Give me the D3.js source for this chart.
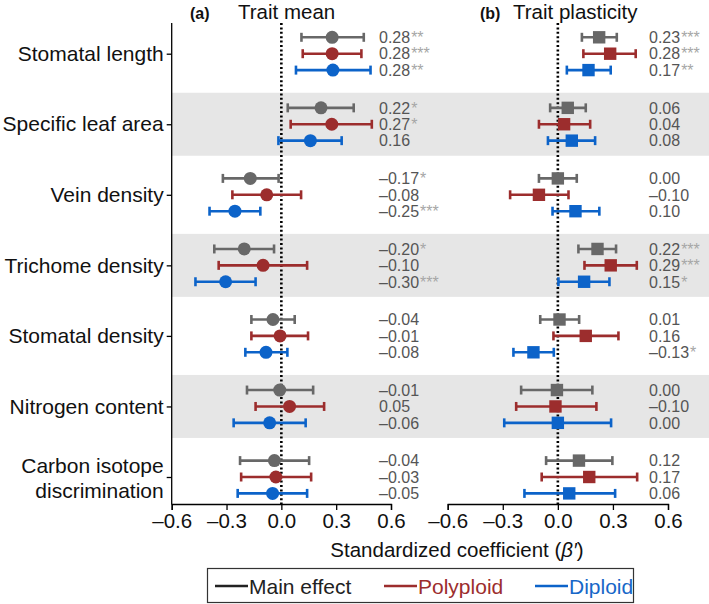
<!DOCTYPE html>
<html><head><meta charset="utf-8">
<script src="https://cdn.jsdelivr.net/npm/d3@7"></script>
<style>
body{margin:0;background:#fff}
svg{display:block}
text{font-family:"Liberation Sans",Arial,Helvetica,sans-serif}
</style>
</head><body>
<svg id="chart" width="709" height="604"></svg>
<script>
const categories = ["Stomatal length","Specific leaf area","Vein density","Trichome density","Stomatal density","Nitrogen content","Carbon isotope discrimination"];
const groups = ["Main effect","Polyploid","Diploid"];
const xTicks = [-0.6,-0.3,0,0.3,0.6];
const shadedRows = ["Specific leaf area","Trichome density","Nitrogen content"];

// Panel (a) Trait mean
const meanMainEst = [0.278,0.217,-0.170,-0.203,-0.046,-0.009,-0.038];
const meanMainLo  = [0.110,0.035,-0.320,-0.367,-0.164,-0.188,-0.226];
const meanMainHi  = [0.451,0.396,-0.015,-0.040,0.073,0.174,0.152];
const meanPolyEst = [0.278,0.276,-0.080,-0.100,-0.007,0.045,-0.030];
const meanPolyLo  = [0.117,0.051,-0.268,-0.343,-0.164,-0.141,-0.220];
const meanPolyHi  = [0.438,0.495,0.108,0.141,0.146,0.234,0.163];
const meanDipEst  = [0.282,0.159,-0.254,-0.305,-0.084,-0.064,-0.048];
const meanDipLo   = [0.080,-0.016,-0.393,-0.470,-0.197,-0.261,-0.239];
const meanDipHi   = [0.488,0.330,-0.115,-0.141,0.033,0.133,0.141];
const meanMainLab = ["0.28","0.22","\u20130.17","\u20130.20","\u20130.04","\u20130.01","\u20130.04"];
const meanMainSig = ["**","*","*","*","","",""];
const meanPolyLab = ["0.28","0.27","\u20130.08","\u20130.10","\u20130.01","0.05","\u20130.03"];
const meanPolySig = ["***","*","","","","",""];
const meanDipLab  = ["0.28","0.16","\u20130.25","\u20130.30","\u20130.08","\u20130.06","\u20130.05"];
const meanDipSig  = ["**","","***","***","","",""];

// Panel (b) Trait plasticity
const plasMainEst = [0.225,0.054,0.000,0.216,0.009,-0.005,0.115];
const plasMainLo  = [0.131,-0.042,-0.103,0.112,-0.096,-0.200,-0.064];
const plasMainHi  = [0.321,0.152,0.103,0.317,0.116,0.188,0.297];
const plasPolyEst = [0.285,0.034,-0.103,0.288,0.152,-0.013,0.171];
const plasPolyLo  = [0.139,-0.103,-0.260,0.145,-0.024,-0.227,-0.088];
const plasPolyHi  = [0.424,0.176,0.058,0.430,0.330,0.210,0.432];
const plasDipEst  = [0.167,0.076,0.096,0.143,-0.133,0.000,0.062];
const plasDipLo   = [0.049,-0.054,-0.029,0.003,-0.242,-0.292,-0.182];
const plasDipHi   = [0.288,0.203,0.226,0.281,-0.022,0.290,0.312];
const plasMainLab = ["0.23","0.06","0.00","0.22","0.01","0.00","0.12"];
const plasMainSig = ["***","","","***","","",""];
const plasPolyLab = ["0.28","0.04","\u20130.10","0.29","0.16","\u20130.10","0.17"];
const plasPolySig = ["***","","","***","","",""];
const plasDipLab  = ["0.17","0.08","0.10","0.15","\u20130.13","0.00","0.06"];
const plasDipSig  = ["**","","","*","*","",""];

const colors = {"Main effect":"#686868","Polyploid":"#9c2d2d","Diploid":"#0c63c9"};
const legendText = {"Main effect":"#222222","Polyploid":"#9c2d2d","Diploid":"#1767c8"};

function build(est, lo, hi, lab, sig, g){
  return categories.map((c,i)=>({cat:c, group:g, est:est[i], lo:lo[i], hi:hi[i], lab:lab[i], sig:sig[i]}));
}
const panelA = [].concat(
  build(meanMainEst,meanMainLo,meanMainHi,meanMainLab,meanMainSig,"Main effect"),
  build(meanPolyEst,meanPolyLo,meanPolyHi,meanPolyLab,meanPolySig,"Polyploid"),
  build(meanDipEst,meanDipLo,meanDipHi,meanDipLab,meanDipSig,"Diploid"));
const panelB = [].concat(
  build(plasMainEst,plasMainLo,plasMainHi,plasMainLab,plasMainSig,"Main effect"),
  build(plasPolyEst,plasPolyLo,plasPolyHi,plasPolyLab,plasPolySig,"Polyploid"),
  build(plasDipEst,plasDipLo,plasDipHi,plasDipLab,plasDipSig,"Diploid"));

const svg = d3.select("#chart");
const yRow = d3.scalePoint().domain(categories).range([53.7, 477]);
const yOff = d3.scalePoint().domain(groups).range([-16.4, 16.4]);
const bandH = 63;
const yTop = 23, yBot = 504;
const xA = d3.scaleLinear().domain([-0.6,0.6]).range([171.7, 391]);
const xB = d3.scaleLinear().domain([-0.6,0.6]).range([447.7, 668]);
const fmt = v => (v<0?"\u2013":"") + Math.abs(v).toFixed(1);

// shaded bands
svg.append("g").selectAll("rect").data(shadedRows).join("rect")
  .attr("x", xA.range()[0]).attr("width", 709 - xA.range()[0])
  .attr("y", d=>yRow(d)-bandH/2).attr("height", bandH)
  .attr("fill","#e6e6e6");

function drawPanel(data, x, labX, marker){
  const g = svg.append("g");
  // zero line
  g.append("line").attr("x1",x(0)).attr("x2",x(0)).attr("y1",yTop).attr("y2",yBot)
    .attr("stroke","#000").attr("stroke-width",2.6).attr("stroke-dasharray","2,2.4");
  // x axis
  const ax = g.append("g").attr("transform",`translate(0,${yBot})`)
    .call(d3.axisBottom(x).tickValues(xTicks).tickFormat(fmt).tickSize(6).tickSizeOuter(6).tickPadding(3));
  ax.select(".domain").attr("stroke","#000").attr("stroke-width",1.3);
  ax.selectAll(".tick line").attr("stroke","#000").attr("stroke-width",1.3);
  ax.selectAll(".tick text").attr("font-size","20.5px").attr("fill","#111")
    .attr("font-family","'Liberation Sans',Arial,sans-serif");
  // error bars
  const eb = g.append("g").selectAll("g").data(data).join("g")
    .attr("transform", d=>`translate(0,${yRow(d.cat)+yOff(d.group)})`)
    .attr("stroke", d=>colors[d.group]).attr("stroke-width",2.6);
  eb.append("line").attr("x1",d=>x(d.lo)).attr("x2",d=>x(d.hi));
  eb.append("line").attr("x1",d=>x(d.lo)).attr("x2",d=>x(d.lo)).attr("y1",-4.5).attr("y2",4.5);
  eb.append("line").attr("x1",d=>x(d.hi)).attr("x2",d=>x(d.hi)).attr("y1",-4.5).attr("y2",4.5);
  if(marker==="circle"){
    eb.append("circle").attr("cx",d=>x(d.est)).attr("r",6.5).attr("fill",d=>colors[d.group]).attr("stroke","none");
  } else {
    eb.append("rect").attr("x",d=>x(d.est)-6.2).attr("y",-6.2).attr("width",12.4).attr("height",12.4)
      .attr("fill",d=>colors[d.group]).attr("stroke","none");
  }
  // value labels
  const t = g.append("g").selectAll("text").data(data).join("text")
    .attr("x", labX).attr("y", d=>yRow(d.cat)+yOff(d.group))
    .attr("dy","0.36em").attr("font-size","16px").attr("fill","#555");
  t.append("tspan").text(d=>d.lab);
  t.append("tspan").attr("fill","#a6a6a6").attr("font-size","16px").attr("dx","1").text(d=>d.sig);
}

drawPanel(panelA, xA, 379, "circle");
drawPanel(panelB, xB, 649, "square");

// y axis panel a
const yAx = svg.append("g").attr("transform",`translate(${xA.range()[0]},0)`)
  .call(d3.axisLeft(yRow).tickSize(5).tickPadding(3));
yAx.select(".domain").remove();
yAx.selectAll(".tick line").attr("stroke","#000").attr("stroke-width",1.3);
yAx.selectAll(".tick text").attr("font-size","21px").attr("fill","#111")
  .attr("font-family","'Liberation Sans',Arial,sans-serif");
yAx.selectAll(".tick text").filter(d=>d==="Carbon isotope discrimination")
  .text(null).attr("dy",null)
  .each(function(){
    const s = d3.select(this);
    s.append("tspan").attr("x",-8).attr("y",-12).attr("dy","0.36em").text("Carbon isotope");
    s.append("tspan").attr("x",-8).attr("y",13).attr("dy","0.36em").text("discrimination");
  });
svg.append("line").attr("x1",xA.range()[0]).attr("x2",xA.range()[0]).attr("y1",yTop).attr("y2",yBot+0.6)
  .attr("stroke","#000").attr("stroke-width",1.3);

// titles
const titles = [{tag:"(a)", name:"Trait mean", x:190, nx:238},{tag:"(b)", name:"Trait plasticity", x:480, nx:513}];
svg.selectAll(".ttag").data(titles).join("text").attr("class","ttag")
  .attr("x",d=>d.x).attr("y",19).attr("font-size","16px").attr("font-weight","bold").attr("fill","#111").text(d=>d.tag);
svg.selectAll(".tname").data(titles).join("text").attr("class","tname")
  .attr("x",d=>d.nx).attr("y",19).attr("font-size","20.5px").attr("fill","#111").text(d=>d.name);

// x label
const xl = svg.append("text").attr("x",457).attr("y",557).attr("text-anchor","middle")
  .attr("font-size","20.5px").attr("fill","#111");
xl.append("tspan").text("Standardized coefficient (");
xl.append("tspan").attr("font-style","italic").text("\u03B2\u2032");
xl.append("tspan").text(")");

// legend
const lg = svg.append("g");
lg.append("rect").attr("x",207.5).attr("y",568.5).attr("width",426).attr("height",34)
  .attr("fill","#fff").attr("stroke","#333").attr("stroke-width",1.2);
const legX = d3.scaleOrdinal().domain(groups).range([215,384,535]);
const li = lg.selectAll("g").data(groups).join("g").attr("transform",d=>`translate(${legX(d)},586)`);
li.append("line").attr("x1",0).attr("x2",33).attr("stroke",d=>d==="Main effect"?"#222":colors[d]).attr("stroke-width",2.4);
li.append("text").attr("x",34).attr("dy","0.36em").attr("font-size","21px")
  .attr("fill",d=>legendText[d]).text(d=>d);
</script>
</body></html>
